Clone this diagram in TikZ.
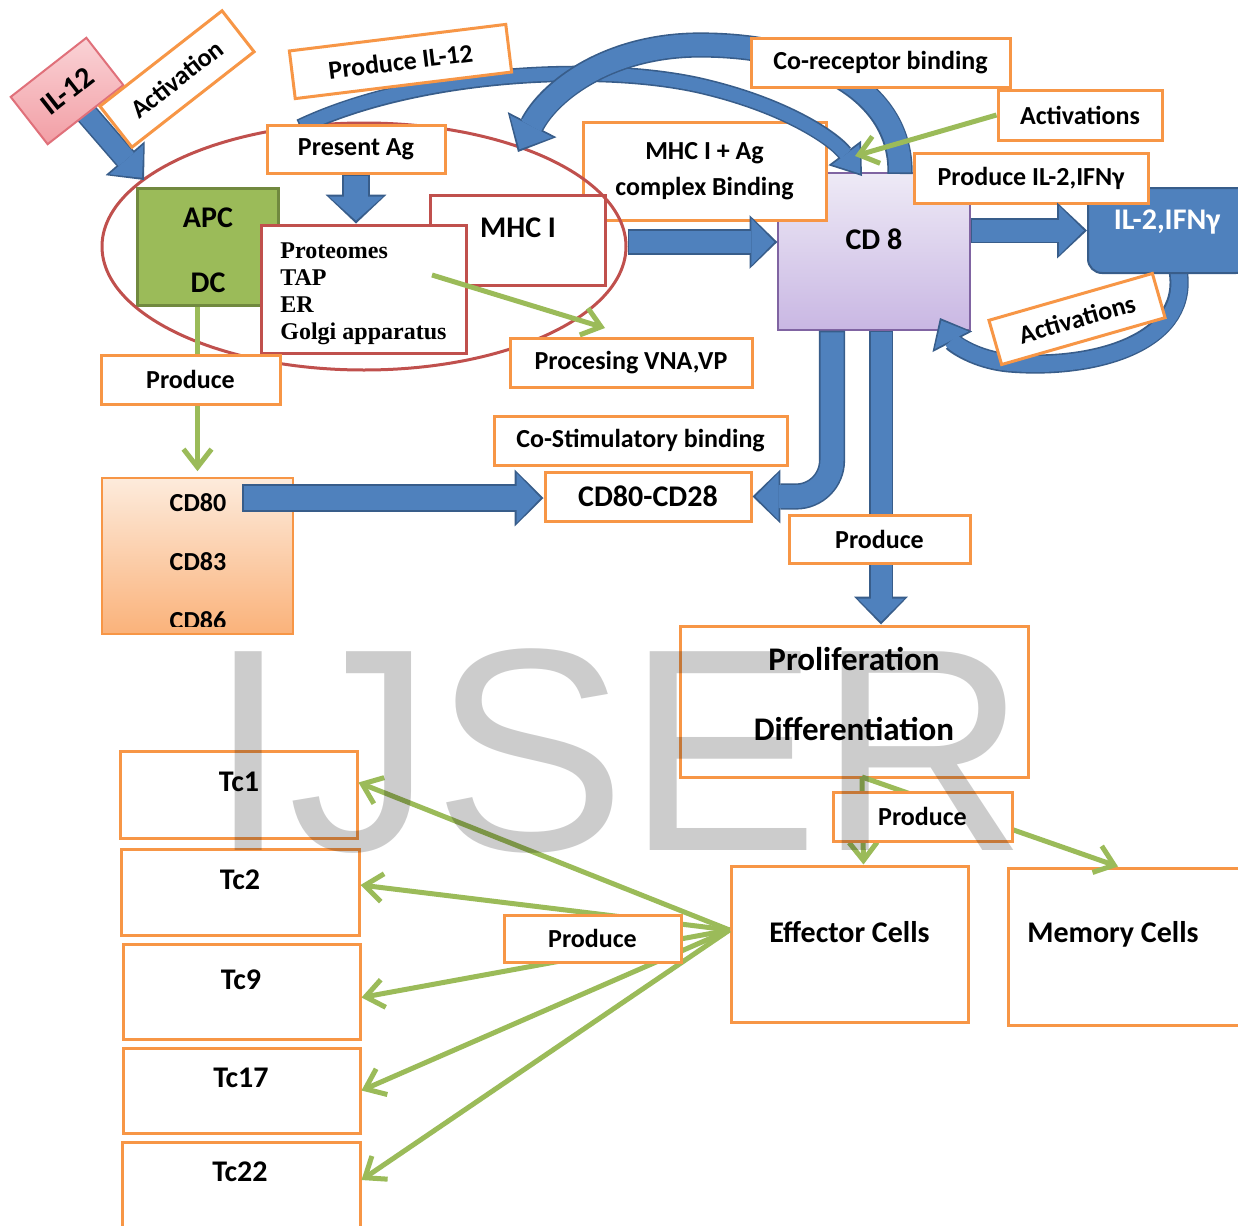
\documentclass[tikz,border=0pt]{standalone}
\usepackage{fontspec}
\setmainfont{Carlito}
\newfontfamily\serifbf{Liberation Serif}
\newfontfamily\wmfont{Liberation Sans}
\usetikzlibrary{arrows.meta,shapes.geometric}

\definecolor{orng}{HTML}{F79646}
\definecolor{bfill}{HTML}{4F81BD}
\definecolor{bline}{HTML}{385D8A}
\definecolor{grn}{HTML}{9BBB59}
\definecolor{grnd}{HTML}{71893F}
\definecolor{redl}{HTML}{C0504D}
\definecolor{purp}{HTML}{8064A2}
\definecolor{cdtop}{HTML}{EEEAF6}
\definecolor{cdbot}{HTML}{C9B7E3}
\definecolor{ortop}{HTML}{FDEBDC}
\definecolor{orbot}{HTML}{FAB27A}
\definecolor{pktop}{HTML}{FAD3D6}
\definecolor{pkbot}{HTML}{F29EA5}
\definecolor{pkline}{HTML}{E0707A}

\tikzset{
  sz/.style 2 args={minimum width=#1*0.5pt, minimum height=#2*0.5pt},
  lbl/.style={font=\bfseries\fontsize{13}{15.6}\selectfont},
  big/.style={font=\bfseries\fontsize{15}{18}\selectfont},
  obox/.style={draw=orng, line width=1.5pt, fill=white, inner sep=0pt, lbl},
  garrow/.style={draw=grn, line width=2.5pt, -{Straight Barb[length=9pt,width=14pt]}},
}

\newcommand\blockarr[4]{%
  \pgfmathsetmacro\bsa{#1/2}%
  \pgfmathsetmacro\bsb{#1/2+1.6}%
  \pgfmathsetmacro\bwa{#2/2}%
  \pgfmathsetmacro\bwb{#2/2+3.4}%
  \pgfmathsetmacro\bla{#3/2}%
  \pgfmathsetmacro\blb{#3/2+2.4}%
  \draw[bline, line width=\bsb pt, -{Triangle[length=\blb pt, width=\bwb pt, line width'=0pt]}] #4;%
  \draw[bfill, line width=\bsa pt, shorten >=1.5pt, shorten <=0.8pt, -{Triangle[length=\bla pt, width=\bwa pt, line width'=0pt]}] #4;%
}

\begin{document}
\begin{tikzpicture}[x=0.5pt, y=-0.5pt]
\fill[white] (0,0) rectangle (1238,1226);
\useasboundingbox (0,0) rectangle (1238,1226);

% ---- CD8 and IL-2 loop
\node[draw=purp, line width=0.7pt, top color=cdtop, bottom color=cdbot, sz={192}{157}] (cd8) at (874,251.5) {};
\node[big] (cd8t) at (874,239) {CD 8};
\coordinate (d0) at (1177,265);
\coordinate (d1) at (940,318);
\blockarr{16}{38}{22}{(d0) .. controls (1195,342) and (1095,370) .. (1010,363) .. controls (975,360) and (953,343) .. (d1)}
\node[draw=bline, line width=1pt, fill=bfill, rounded corners=7pt, sz={162}{85}] (il2) at (1169,230.5) {};
\node[big, text=white] (il2t) at (1167,222) {IL-2,IFNγ};
\node[obox, rotate=16, sz={170}{46}] (act2) at (1077,319) {Activations};

% ---- APC cell
\node[obox, align=center, font=\bfseries\fontsize{13}{18}\selectfont, sz={243}{98}] (mhcag) at (704.5,171) {MHC I + Ag\\complex Binding};
\node[draw=grnd, line width=1.5pt, fill=grn, sz={141}{117}] (apc) at (207.5,246.5) {};
\node[big] (apct) at (208,218) {APC};
\node[big] (dct) at (208,283) {DC};
\node[draw=redl, line width=1.5pt, fill=white, sz={175}{90}] (mhc) at (517.5,240) {};
\node[big] (mhct) at (518,228) {MHC I};
\node[draw=redl, line width=1.5pt, fill=white, sz={205}{128}] (prot) at (363.5,289) {};
\node[anchor=north west, align=left, inner sep=0pt, font=\serifbf\bfseries\fontsize{12}{13.5}\selectfont] (prott) at (280,242) {Proteomes\\TAP\\ER\\Golgi apparatus};
\node[ellipse, draw=redl, line width=1.5pt, inner sep=0pt, sz={524}{247}] (ell) at (364,246.5) {};

% ---- big arcs
\coordinate (aA) at (300,127);
\coordinate (aAe) at (862,176);
\blockarr{13}{34}{24}{(aA) .. controls (420,70) and (610,62) .. (710,88) .. controls (790,108) and (835,140) .. (aAe)}
\coordinate (aB) at (900,174);
\coordinate (aBe) at (518,152);
\blockarr{22}{48}{26}{(aB) .. controls (902,95) and (820,45) .. (700,45) .. controls (610,45) and (550,90) .. (aBe)}

\node[obox, sz={178}{48}] (presag) at (356,149) {Present Ag};
\node[obox, rotate=7, sz={218}{48}] (pil12) at (400.5,61.5) {Produce IL-12};
\node[obox, sz={259}{49}] (corec) at (880.5,62.5) {Co-receptor binding};
\node[obox, sz={164}{50}] (act1) at (1080,115) {Activations};
\node[obox, sz={234}{50}] (pil2) at (1031,178) {Produce IL-2,IFNγ};

% ---- straight block arrows
\blockarr{24}{54}{24}{(presag.south) -- (presag.south |- prot.north)}
\coordinate (e1) at ([yshift=2.25pt]ell.east);
\blockarr{22}{47}{23}{(e1) -- (e1 -| cd8.west)}
\blockarr{22}{49}{25}{(cd8.east |- il2.west) -- (il2.west)}

% ---- green arrows top
\coordinate (gA) at (855,156);
\draw[garrow] (act1.west) -- (gA);
\coordinate (pg1) at (432,275);
\coordinate (pg2) at (605,328);
\draw[garrow] (pg1) -- (pg2);

% ---- IL-12
\coordinate (apcin) at (144,180);
\blockarr{20}{45}{24}{(67,91) -- (apcin)}
\node[draw=pkline, line width=1pt, top color=pktop, bottom color=pkbot, rotate=38, sz={96}{60}, big] (il12) at (67,91) {IL-12};
\node[obox, rotate=38, sz={155}{52}] (actv) at (177,79) {Activation};

% ---- CD80 branch
\node[draw=orng, line width=0.8pt, top color=ortop, bottom color=orbot, sz={191}{156}] (cdbox) at (197.5,556) {};
\coordinate (g3s) at ([xshift=-5pt]apc.south);
\draw[garrow, shorten >=3pt] (g3s) -- (g3s |- cdbox.north);
\node[obox, sz={179}{49}] (prod1) at (190.5,379.5) {Produce};
\node[obox, sz={242}{49}] (procb) at (631,362.5) {Procesing VNA,VP};
\node[lbl] (cd80t) at (198,503) {CD80};
\node[lbl] (cd83t) at (198,562) {CD83};
\begin{scope}
  \clip (102,478) rectangle (293,626);
  \node[lbl] (cd86t) at (198,621) {CD86};
\end{scope}
\node[obox, font=\bfseries\fontsize{15}{18}\selectfont, sz={206}{49}] (cdcd) at (648,496.5) {CD80-CD28};
\node[obox, sz={293}{49}] (costim) at (640.5,440.5) {Co-Stimulatory binding};
\coordinate (c1) at (242,498);
\blockarr{24}{50}{24}{(c1) -- (c1 -| cdcd.west)}
\coordinate (b1) at ([xshift=-21pt]cd8.south);
\blockarr{23}{47}{23}{(b1) [rounded corners=18pt] |- (cdcd.east)}
\coordinate (v1) at ([xshift=3.5pt]cd8.south);
\node[draw=orng, line width=1.5pt, fill=white, sz={348}{151}] (prolif) at (854,701.5) {};
\blockarr{21}{47}{23}{(v1) -- (v1 |- prolif.north)}
\node[obox, sz={181}{48}] (prod2) at (879.5,539) {Produce};
\node[align=center, font=\bfseries\fontsize{16.5}{35}\selectfont] (prolift) at (854,694) {Proliferation\\Differentiation};

% ---- effector / memory
\node[draw=orng, line width=1.5pt, fill=white, sz={237}{156}] (eff) at (849.5,944) {};
\node[draw=orng, line width=1.5pt, fill=white, sz={242}{157}] (mem) at (1129,946.5) {};
\coordinate (pb) at (862,777);
\coordinate (ea) at ([xshift=7pt]eff.north);
\coordinate (mt) at ([xshift=-5.5pt]mem.north);
\draw[garrow] (pb) -- (ea);
\draw[garrow] (pb) -- (mt);
\node[obox, sz={179}{49}] (prod3) at (922.5,816.5) {Produce};
\node[big] (efft) at (849.5,932) {Effector Cells};
\node[big] (memt) at (1113,934) {Memory Cells};

% ---- Tc boxes
\node[draw=orng, line width=1.5pt, fill=white, sz={237}{87}] (tc1) at (238.5,794.5) {};
\node[draw=orng, line width=1.5pt, fill=white, sz={238}{86}] (tc2) at (240,892) {};
\node[draw=orng, line width=1.5pt, fill=white, sz={237}{95}] (tc9) at (241.5,991.5) {};
\node[draw=orng, line width=1.5pt, fill=white, sz={237}{85}] (tc17) at (241.5,1090.5) {};
\node[draw=orng, line width=1.5pt, fill=white, sz={238}{96}] (tc22) at (241,1190) {};
\node[big] (tc1t) at (239,782) {Tc1};
\node[big] (tc2t) at (240,880) {Tc2};
\node[big] (tc9t) at (241,980) {Tc9};
\node[big] (tc17t) at (241,1078) {Tc17};
\node[big] (tc22t) at (240,1172) {Tc22};
\coordinate (ew) at ([yshift=7pt]eff.west);
\draw[garrow] (ew) -- ([yshift=6pt]tc1.east);
\draw[garrow] (ew) -- ([yshift=3.5pt]tc2.east);
\draw[garrow] (ew) -- ([yshift=-3pt]tc9.east);
\draw[garrow] (ew) -- (tc17.east);
\draw[garrow] (ew) -- ([yshift=5pt]tc22.east);
\node[obox, sz={177}{47}] (prod4) at (592.5,938.5) {Produce};

% ---- watermark
\node[anchor=base west, inner sep=0pt, text=black, text opacity=0.2, font=\wmfont\fontsize{144.5}{150}\selectfont] (wm) at (208,850) {IJSER};
\end{tikzpicture}
\end{document}
